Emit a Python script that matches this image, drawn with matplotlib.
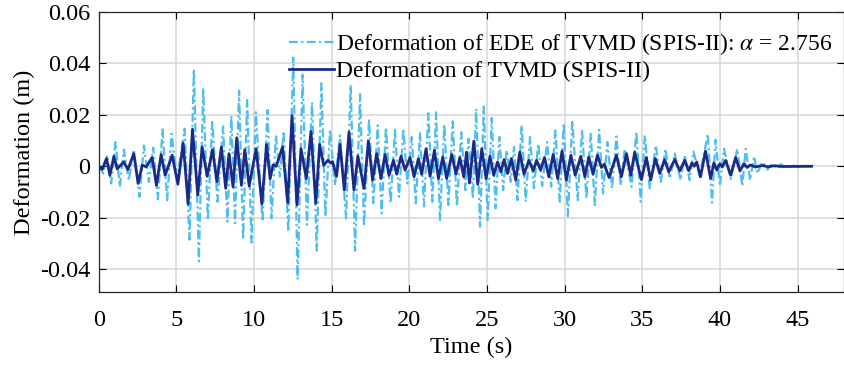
import matplotlib
matplotlib.use('Agg')
import matplotlib.pyplot as plt
from matplotlib.ticker import FuncFormatter

# EDE of TVMD: peaks/troughs (time s, deformation m)
t_ede = [0.0, 0.28, 0.54, 0.79, 1.07, 1.35, 1.61, 1.93, 2.25, 2.62, 2.90, 3.22,
         3.50, 3.80, 4.10, 4.40, 4.68, 5.04, 5.52, 5.84, 6.12, 6.44, 6.72, 7.02,
         7.30, 7.64, 8.00, 8.28, 8.53, 8.77, 9.03, 9.29, 9.55, 9.83, 10.11, 10.54,
         10.86, 11.12, 11.40, 11.66, 11.90, 12.20, 12.52, 12.80, 13.12, 13.40, 13.73, 14.03,
         14.33, 14.59, 14.89, 15.20, 15.53, 15.92, 16.22, 16.50, 16.82, 17.08, 17.40, 17.68,
         17.96, 18.21, 18.49, 18.79, 19.07, 19.33, 19.61, 19.87, 20.15, 20.41, 20.68, 20.94,
         21.22, 21.48, 21.72, 21.97, 22.25, 22.51, 22.79, 23.06, 23.34, 23.60, 23.81, 24.09,
         24.30, 24.55, 24.79, 25.04, 25.30, 25.55, 25.79, 26.04, 26.26, 26.53, 26.74, 26.96,
         27.23, 27.49, 27.77, 28.02, 28.30, 28.55, 28.87, 29.13, 29.40, 29.68, 29.94, 30.21,
         30.49, 30.84, 31.12, 31.40, 31.68, 31.94, 32.22, 32.47, 32.75, 33.05, 33.33, 33.61,
         33.87, 34.30, 34.62, 34.90, 35.16, 35.48, 35.87, 36.19, 36.49, 36.77, 37.09, 37.47,
         37.73, 38.05, 38.30, 38.70, 39.22, 39.49, 39.72, 40.00, 40.26, 40.70, 41.12, 41.44,
         41.66, 41.94, 42.20, 42.41, 42.74, 43.06, 43.38, 43.70, 43.90, 44.35, 44.57, 45.00,
         45.90]
d_ede = [0.0, -0.0028, 0.0043, -0.0067, 0.0094, -0.0080, 0.0065, -0.0054, 0.0065, -0.0119, 0.0081, -0.0061,
         0.0072, -0.0129, 0.0143, -0.0132, 0.0126, -0.0048, 0.0146, -0.0286, 0.0378, -0.0370, 0.0304, -0.0209,
         0.0178, -0.0138, 0.0155, -0.0215, 0.0197, -0.0222, 0.0294, -0.0286, 0.0258, -0.0297, 0.0210, -0.0215,
         0.0219, -0.0203, 0.0120, -0.0040, 0.0137, -0.0254, 0.0423, -0.0441, 0.0356, -0.0228, 0.0249, -0.0329,
         0.0323, -0.0196, 0.0142, -0.0074, 0.0120, -0.0203, 0.0316, -0.0329, 0.0281, -0.0235, 0.0184, -0.0144,
         0.0159, -0.0183, 0.0152, -0.0144, 0.0142, -0.0119, 0.0146, -0.0067, 0.0114, -0.0144, 0.0129, -0.0157,
         0.0206, -0.0138, 0.0210, -0.0209, 0.0163, -0.0151, 0.0175, -0.0157, 0.0133, -0.0093, 0.0107, -0.0125,
         0.0223, -0.0235, 0.0232, -0.0209, 0.0188, -0.0164, 0.0114, -0.0093, 0.0062, -0.0061, 0.0075, -0.0132,
         0.0159, -0.0138, 0.0114, -0.0086, 0.0088, -0.0077, 0.0094, -0.0080, 0.0139, -0.0138, 0.0168, -0.0194,
         0.0178, -0.0132, 0.0142, -0.0125, 0.0126, -0.0151, 0.0142, -0.0106, 0.0094, -0.0086, 0.0116, -0.0074,
         0.0068, -0.0080, 0.0133, -0.0138, 0.0120, -0.0086, 0.0081, -0.0061, 0.0068, -0.0048, 0.0049, -0.0054,
         0.0043, -0.0054, 0.0057, -0.0040, 0.0126, -0.0142, 0.0103, -0.0077, 0.0068, -0.0050, 0.0068, -0.0077,
         0.0068, -0.0054, 0.0039, -0.0028, 0.0017, -0.0013, 0.0010, -0.0009, 0.0008, -0.0005, 0.0005, -0.0002,
         0.0]

# TVMD deformation
t_tvmd = [0.0, 0.22, 0.49, 0.71, 0.97, 1.18, 1.61, 1.87, 2.25, 2.53, 2.79, 3.05,
          3.43, 3.71, 4.01, 4.27, 4.72, 5.09, 5.43, 5.75, 6.03, 6.37, 6.65, 6.98,
          7.32, 7.60, 7.89, 8.17, 8.38, 8.64, 8.88, 9.18, 9.40, 9.68, 10.13, 10.50,
          10.80, 11.03, 11.22, 11.42, 11.83, 12.16, 12.44, 12.76, 13.02, 13.36, 13.66, 13.97,
          14.22, 14.48, 14.75, 14.95, 15.05, 15.31, 15.53, 15.81, 16.11, 16.43, 16.68, 17.08,
          17.36, 17.63, 17.89, 18.17, 18.43, 18.69, 18.97, 19.18, 19.46, 19.72, 20.04, 20.30,
          20.58, 20.79, 21.07, 21.33, 21.61, 21.87, 22.15, 22.40, 22.73, 23.00, 23.25, 23.50,
          23.68, 23.87, 24.15, 24.40, 24.66, 24.94, 25.19, 25.43, 25.68, 25.89, 26.10, 26.32,
          26.57, 26.85, 27.11, 27.38, 27.70, 27.98, 28.19, 28.45, 28.70, 28.98, 29.26, 29.55,
          29.83, 30.11, 30.40, 30.68, 31.04, 31.30, 31.55, 31.83, 32.11, 32.37, 32.55, 32.86,
          33.33, 33.65, 33.98, 34.26, 34.51, 34.94, 35.26, 35.54, 35.84, 36.12, 36.44, 36.70,
          37.09, 37.41, 37.73, 37.99, 38.20, 38.35, 38.50, 38.75, 39.07, 39.40, 39.61, 39.80,
          40.00, 40.15, 40.37, 40.69, 41.01, 41.29, 41.55, 41.75, 41.95, 42.30, 42.70, 43.10,
          43.50, 44.00, 45.90]
d_tvmd = [0.0, -0.0012, 0.0030, -0.0035, 0.0039, -0.0010, 0.0017, -0.0013, 0.0049, -0.0067, 0.0004, -0.0002,
          0.0034, -0.0074, 0.0046, -0.0035, 0.0043, -0.0070, 0.0090, -0.0147, 0.0144, -0.0112, 0.0075, -0.0039,
          0.0065, -0.0060, 0.0075, -0.0086, 0.0049, -0.0080, 0.0111, -0.0074, 0.0065, -0.0077, 0.0068, -0.0147,
          0.0085, -0.0048, 0.0005, 0.0000, 0.0075, -0.0142, 0.0197, -0.0151, 0.0068, -0.0048, 0.0135, -0.0144,
          0.0085, 0.0004, 0.0023, 0.0012, 0.0018, -0.0039, 0.0085, -0.0093, 0.0133, -0.0093, 0.0040, -0.0086,
          0.0098, -0.0054, 0.0049, -0.0048, 0.0046, -0.0035, 0.0023, -0.0031, 0.0039, -0.0015, 0.0034, -0.0041,
          0.0030, -0.0031, 0.0068, -0.0039, 0.0062, -0.0048, 0.0036, -0.0048, 0.0046, -0.0030, 0.0034, -0.0041,
          0.0055, -0.0065, 0.0098, -0.0070, 0.0068, -0.0048, 0.0039, -0.0035, 0.0017, -0.0022, 0.0026, -0.0028,
          0.0030, -0.0054, 0.0055, -0.0031, 0.0023, -0.0018, 0.0023, -0.0015, 0.0034, -0.0041, 0.0046, -0.0048,
          0.0059, -0.0054, 0.0043, -0.0035, 0.0039, -0.0041, 0.0036, -0.0031, 0.0043, -0.0005, 0.0008, -0.0044,
          0.0043, -0.0041, 0.0049, -0.0035, 0.0055, -0.0052, 0.0034, -0.0054, 0.0030, -0.0028, 0.0026, -0.0022,
          0.0026, -0.0018, 0.0023, -0.0018, 0.0013, 0.0000, 0.0017, -0.0041, 0.0059, -0.0048, 0.0013, -0.0015,
          0.0010, -0.0003, 0.0023, -0.0035, 0.0034, -0.0018, 0.0010, -0.0005, 0.0005, -0.0003, 0.0003, -0.0002,
          0.0002, -0.0001, 0.0]

x_ticks = [0, 5, 10, 15, 20, 25, 30, 35, 40, 45]
y_ticks = [-0.04, -0.02, 0, 0.02, 0.04, 0.06]

plt.rcParams['font.family'] = ['Liberation Serif', 'DejaVu Serif']
plt.rcParams['mathtext.fontset'] = 'stix'

fig = plt.figure(figsize=(8.45, 3.67), dpi=100)
ax = fig.add_axes([0.117, 0.204, 0.882, 0.763])

ax.plot(t_ede, d_ede, color='#4DBEEE', linestyle=(0, (4, 1.5, 1, 1.5)), linewidth=1.6,
        label=r'Deformation of EDE of TVMD (SPIS-II): $\alpha$ = 2.756')
ax.plot(t_tvmd, d_tvmd, color='#1B2A87', linewidth=2.0,
        label='Deformation of TVMD (SPIS-II)')

ax.set_xlim(0, 48)
ax.set_ylim(-0.049, 0.06)
ax.set_xticks(x_ticks)
ax.set_yticks(y_ticks)
ax.yaxis.set_major_formatter(FuncFormatter(lambda v, p: '0' if abs(v) < 1e-9 else f'{v:.2f}'))
ax.tick_params(direction='in', top=True, right=True, labelsize=17.5, length=5, width=0.8)
ax.tick_params(axis='y', pad=6)
ax.tick_params(axis='x', pad=13)
ax.grid(True, color='#d6d6d6', linewidth=1.1)
for s in ax.spines.values():
    s.set_linewidth(0.9)
    s.set_color('#262626')

ax.set_xlabel('Time (s)', fontsize=17.5, labelpad=4)
ax.set_ylabel('Deformation (m)', fontsize=17.5, labelpad=4)

ax.legend(loc='upper right', bbox_to_anchor=(1.01, 1.0), frameon=False, fontsize=17,
          handlelength=1.9, handletextpad=0.1, labelspacing=0.15, borderpad=0.3)

fig.savefig('out.png', dpi=100)
plt.close(fig)
